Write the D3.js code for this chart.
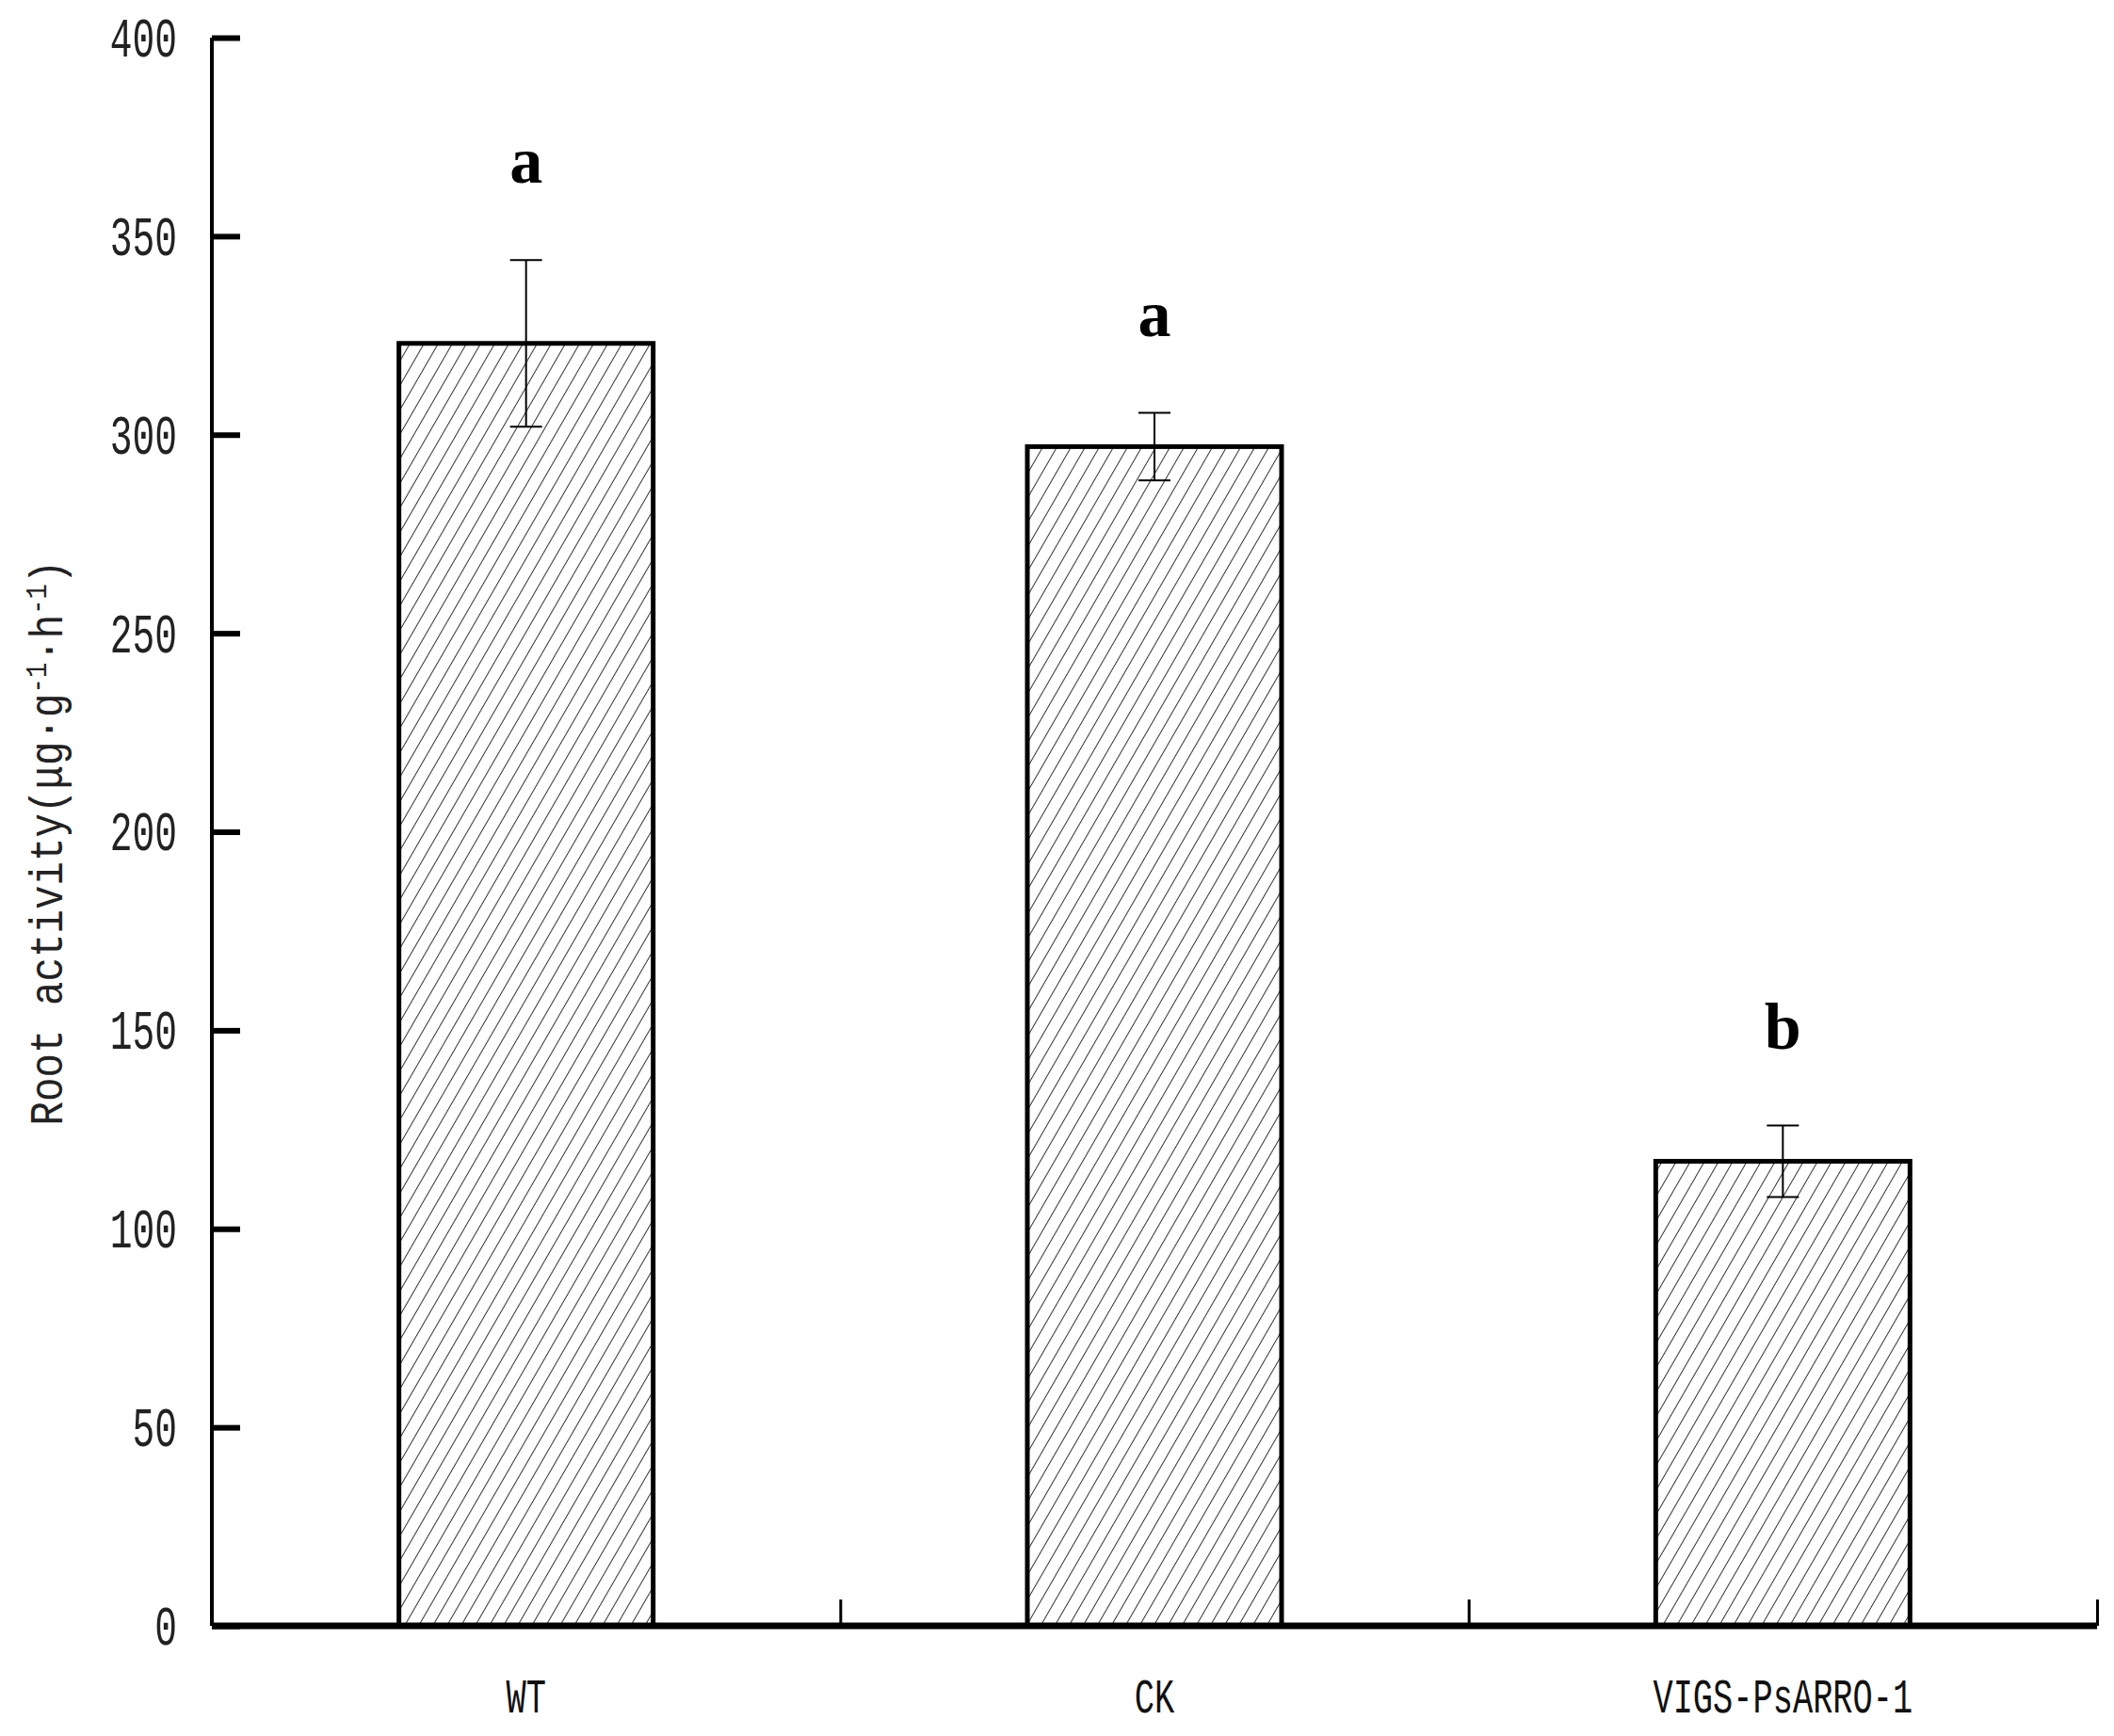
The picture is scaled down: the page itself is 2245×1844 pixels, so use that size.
<!DOCTYPE html><html><head><meta charset="utf-8"><script src="https://cdn.jsdelivr.net/npm/d3@7"></script>
<style>body{margin:0;background:#fff}</style></head><body><svg id="c" width="2245" height="1844"></svg>
<script>
const categories=["WT","CK","VIGS-PsARRO-1"];
const values=[323,297,117];
const errors=[21,8.5,9];
const letters=["a","a","b"];
const yTicks=[0,50,100,150,200,250,300,350,400];
const svg=d3.select("#c");
const L=225,R=2227,T=40,B=1727;
const xb=d3.scaleBand().domain(categories).range([L,R]);
const y=d3.scaleLinear().domain([0,400]).range([B,T]);
const defs=svg.append("defs");
const p=defs.append("pattern").attr("id","h").attr("patternUnits","userSpaceOnUse").attr("width",13).attr("height",13).attr("patternTransform","rotate(30)");
p.append("line").attr("x1",0).attr("y1",0).attr("x2",0).attr("y2",13).attr("stroke","#000").attr("stroke-width",1.6);
svg.selectAll(".bar").data(values).join("rect").attr("x",(d,i)=>xb(categories[i])+xb.bandwidth()/2-135).attr("width",270)
 .attr("y",d=>y(d)).attr("height",d=>B-y(d)).attr("fill","url(#h)").attr("stroke","#000").attr("stroke-width",5);
values.forEach((v,i)=>{const cx=xb(categories[i])+xb.bandwidth()/2;
 const g=svg.append("g").attr("stroke","#000").attr("stroke-width",2);
 g.append("line").attr("x1",cx).attr("x2",cx).attr("y1",y(v+errors[i])).attr("y2",y(v-errors[i]));
 [v+errors[i],v-errors[i]].forEach(e=>g.append("line").attr("x1",cx-17).attr("x2",cx+17).attr("y1",y(e)).attr("y2",y(e)));
 svg.append("text").attr("x",cx).attr("y",y(v+errors[i])-82).attr("text-anchor","middle").attr("font-family","Liberation Serif").attr("font-weight","bold").attr("font-size",70).text(letters[i]);
 svg.append("text").attr("x",cx).attr("y",B+92).attr("text-anchor","middle").attr("font-family","Liberation Mono").attr("font-size",52).attr("transform",`translate(${cx},0) scale(0.68,1) translate(${-cx},0)`).attr("fill","#111").text(categories[i]);
});
const ya=svg.append("g").attr("transform",`translate(${L},0)`).call(d3.axisRight(y).tickValues(yTicks).tickSize(30).tickFormat(""));
ya.selectAll("line").attr("stroke-width",6);ya.select(".domain").attr("stroke-width",4).attr("d",`M0,${T}V${B}`);
yTicks.forEach(t=>svg.append("text").attr("x",188).attr("y",y(t)+20).attr("text-anchor","end").attr("font-family","Liberation Mono").attr("font-size",60).attr("fill","#222").attr("transform",`translate(188,0) scale(0.66,1) translate(-188,0)`).text(t));
const xa=svg.append("g").attr("transform",`translate(0,${B})`).call(d3.axisTop(d3.scaleLinear().domain([0,3]).range([L,R])).tickValues([1,2,3]).tickSize(28).tickFormat(""));
xa.selectAll("line").attr("stroke-width",3);xa.select(".domain").attr("stroke-width",7).attr("d",`M${L},0H${R}`);
svg.append("text").attr("transform","translate(66,895) rotate(-90) scale(0.85,1)").attr("text-anchor","middle").attr("font-family","Liberation Mono").attr("font-size",50).attr("fill","#222")
 .html('Root activity(μg·g<tspan dy="-17" font-size="32">-1</tspan><tspan dy="17">·h</tspan><tspan dy="-17" font-size="32">-1</tspan><tspan dy="17">)</tspan>');
</script></body></html>
